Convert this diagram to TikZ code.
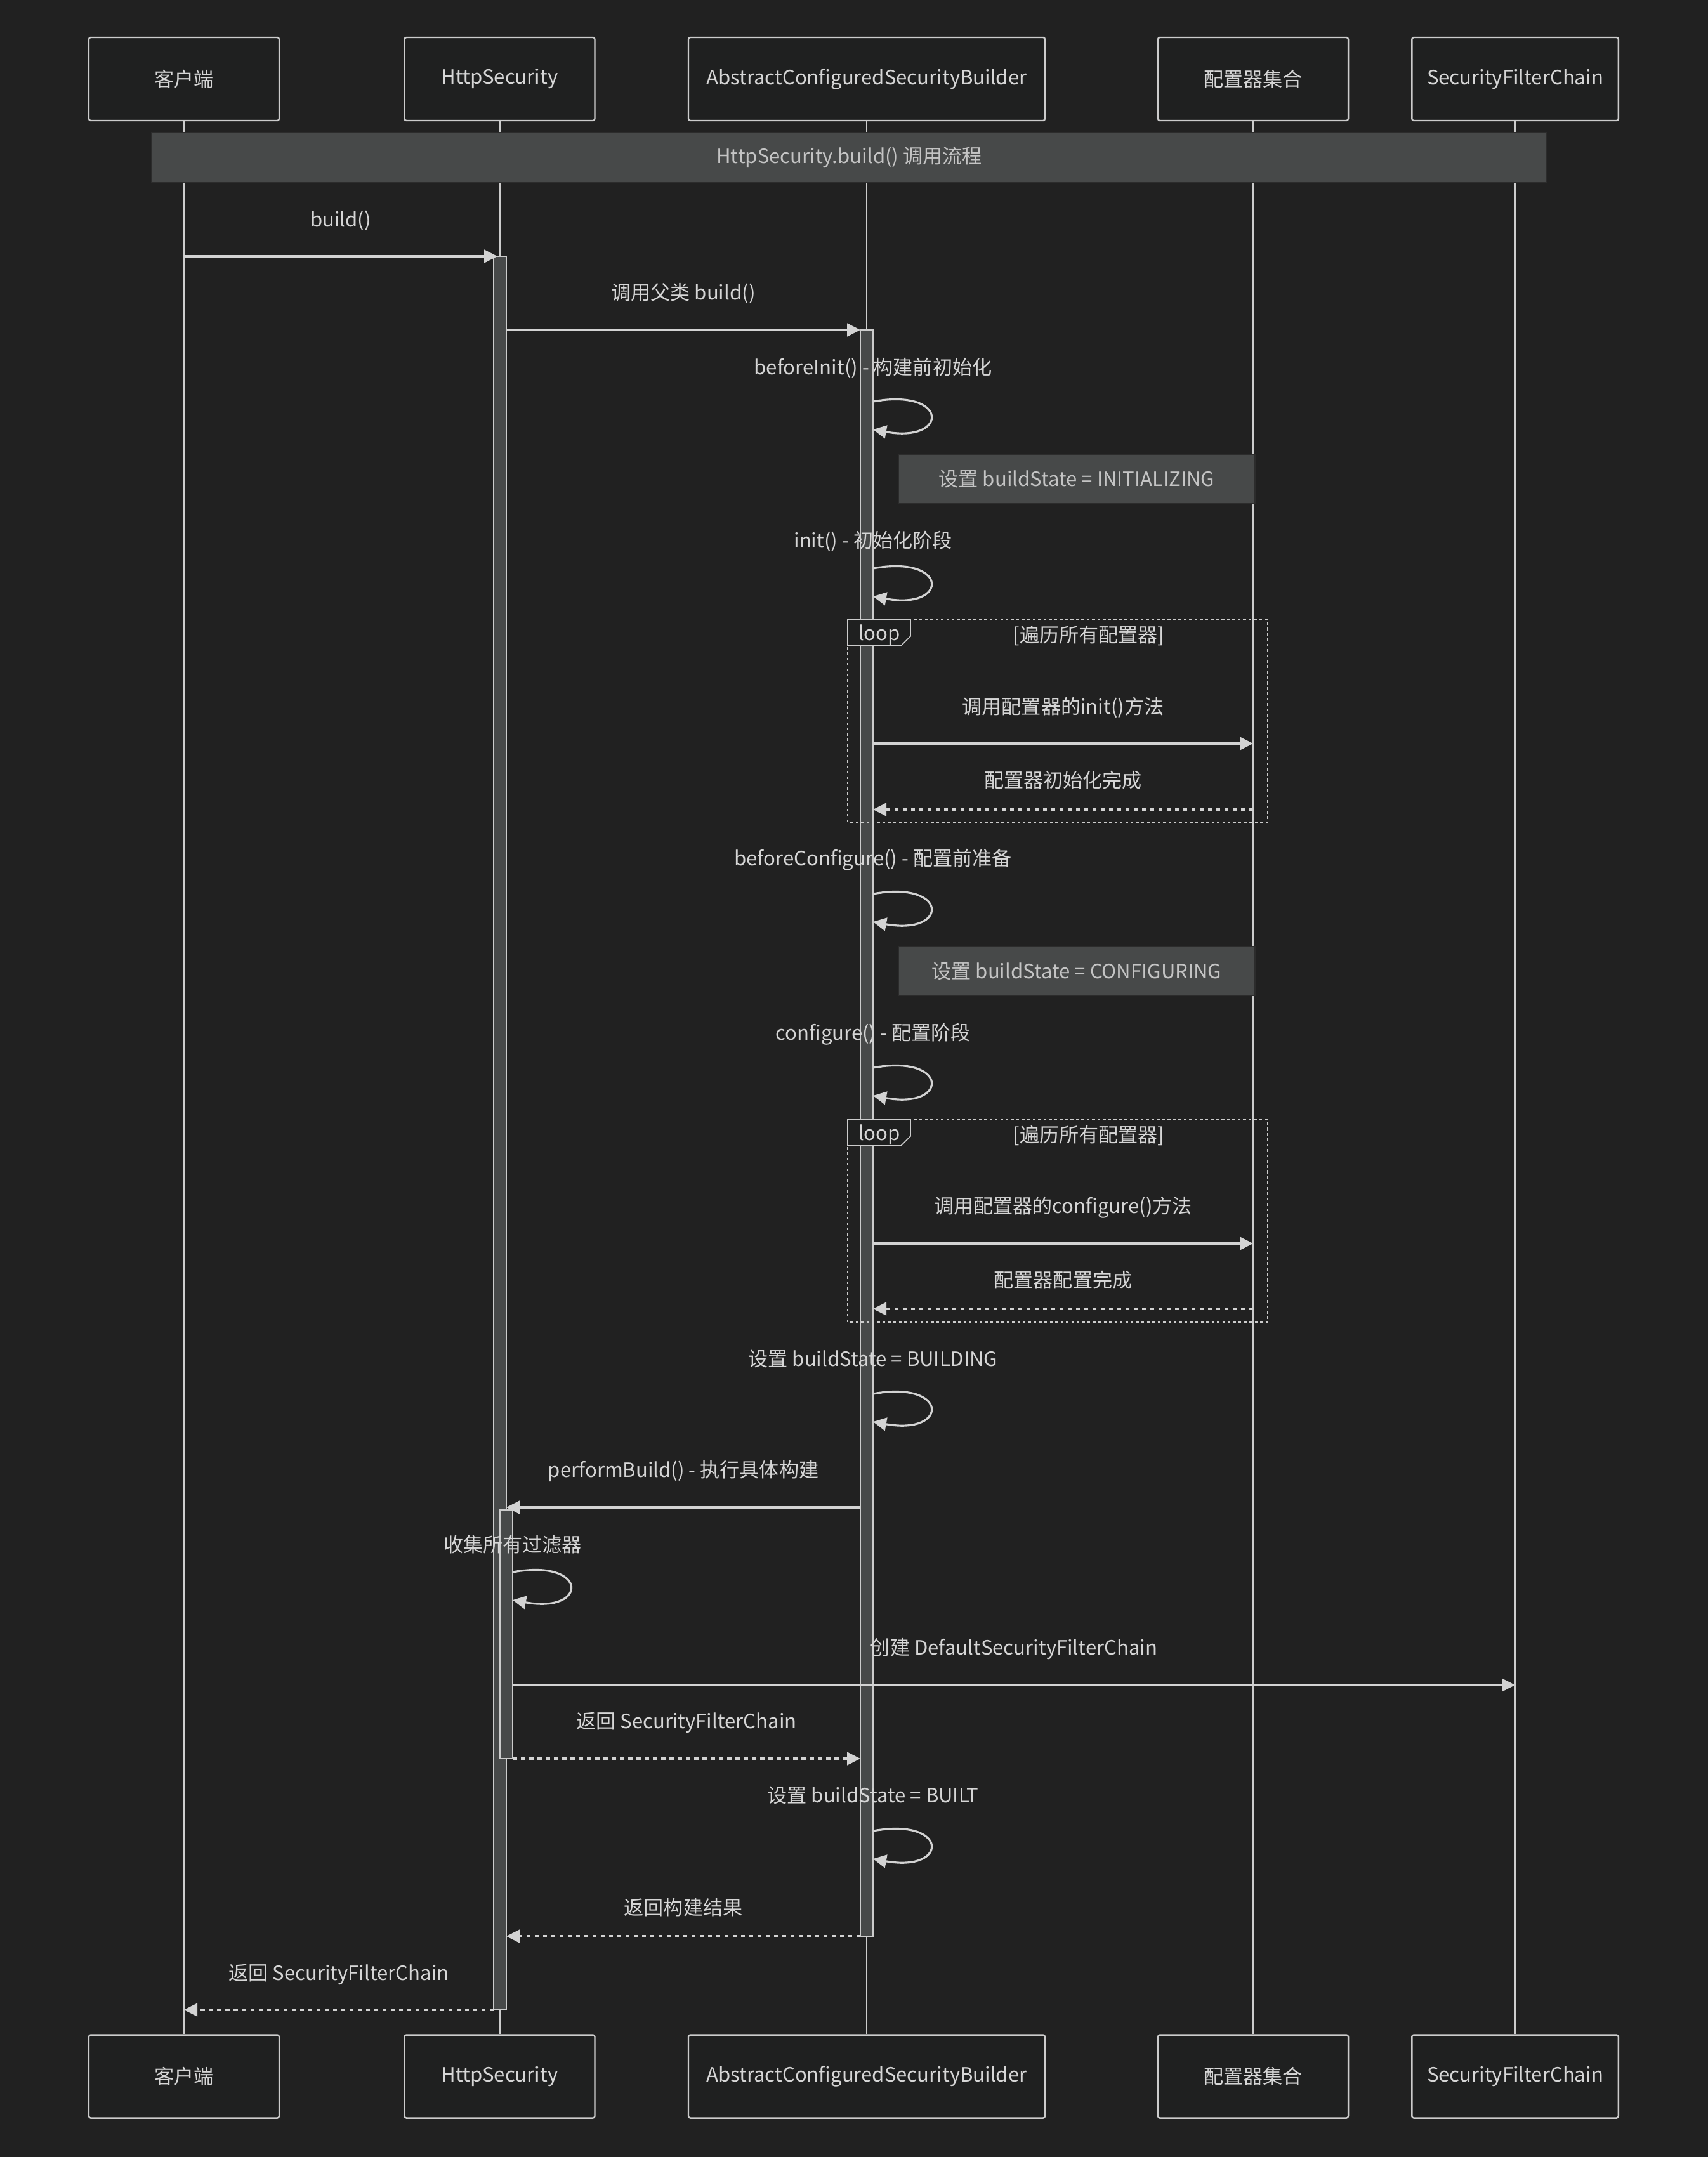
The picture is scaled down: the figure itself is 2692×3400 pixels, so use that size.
\documentclass[tikz,border=0pt]{standalone}
\usepackage{fontspec}
\setmainfont{Noto Sans CJK SC}
\usetikzlibrary{arrows.meta}
\definecolor{bgc}{RGB}{33,33,33}
\definecolor{actorc}{RGB}{31,32,32}
\definecolor{linec}{RGB}{204,204,204}
\definecolor{arrc}{RGB}{211,211,211}
\definecolor{txtc}{RGB}{214,214,214}
\definecolor{grayc}{RGB}{71,73,73}
\definecolor{noteline}{RGB}{44,44,44}
\definecolor{notetxt}{RGB}{196,196,196}
\tikzset{>={Triangle[length=4.2mm,width=4.1mm]},every node/.style={font=\fontsize{17.7}{21}\selectfont,text=txtc},
actor/.style={draw=linec,fill=actorc,line width=1.4pt,rounded corners=.6mm,minimum height=26.2mm,inner sep=0pt},
life/.style={draw=linec,line width=1.6pt},call/.style={draw=arrc,line width=1.8pt,->},
ret/.style={call,dash pattern=on 1.3mm off 1.3mm},actbar/.style={fill=grayc,draw=linec,line width=.7pt},
notebox/.style={fill=grayc,draw=noteline,line width=.8pt,text=notetxt,inner sep=0pt},
loopbox/.style={draw=linec,line width=1.4pt,dash pattern=on .85mm off .85mm},
looptab/.style={fill=actorc,draw=linec,line width=.9pt},lbl/.style={inner sep=0pt}}
\newcommand{\msg}[7]{\coordinate (#1s) at (#2,#4);\coordinate (#1e) at (#3,#4);
\draw[#5] (#1s) -- (#1e);\node[lbl] (#1l) at ({(#2+#3)/2},#7) {#6};}
\newcommand{\selfmsg}[5]{\coordinate (#1s) at (#2,#3);\coordinate (#1e) at (#2,#3+44);
\draw[call] (#1s) .. controls +(120,-22) and +(120,22) .. (#1e);\node[lbl] (#1l) at (#2,#5) {#4};}

\begin{document}
\begin{tikzpicture}[x=.2mm,y=-.2mm]
\fill[bgc] (0,0) rectangle (2692,3400);
% participants and lifelines
\foreach \n/\x/\w/\t in {cl/290/60/客户端,hs/787.5/60/HttpSecurity,ab/1366/112.4/AbstractConfiguredSecurityBuilder,cf/1975/60/配置器集合,fc/2388/65.1/SecurityFilterChain}{
\node[actor,minimum width=\w mm] (\n) at (\x,124.5) {\t};
\node[actor,minimum width=\w mm] (\n2) at (\x,3273) {\t};
\draw[life] (\n) -- (\n2);}
% notes
\node[notebox,minimum width=439.8mm,minimum height=15.8mm] (title) at (1338.5,248.5) {HttpSecurity.build() 调用流程};
\node[notebox,minimum width=112.4mm,minimum height=15.6mm] (ninit) at (1697,755) {设置 buildState = INITIALIZING};
\node[notebox,minimum width=112.4mm,minimum height=15.6mm] (nconf) at (1697,1530.5) {设置 buildState = CONFIGURING};
% activations
\draw[actbar] (778,404) rectangle (798,3168);
\draw[actbar] (1356,520) rectangle (1376,3052);
\draw[actbar] (788,2380) rectangle (808,2772);
% messages
\msg{m1}{290}{784}{404}{call}{build()}{348}
\msg{m2}{798}{1356}{520}{call}{调用父类 build()}{462}
\selfmsg{s1}{1376}{633}{beforeInit() - 构建前初始化}{580}
\selfmsg{s2}{1376}{896}{init() - 初始化阶段}{853}
\msg{m3}{1376}{1975}{1172}{call}{调用配置器的init()方法}{1115}
\msg{r1}{1975}{1376}{1276}{ret}{配置器初始化完成}{1230}
\selfmsg{s3}{1376}{1409}{beforeConfigure() - 配置前准备}{1355}
\selfmsg{s4}{1376}{1683}{configure() - 配置阶段}{1630}
\msg{m4}{1376}{1975}{1960}{call}{调用配置器的configure()方法}{1903}
\msg{r2}{1975}{1376}{2063}{ret}{配置器配置完成}{2018}
\selfmsg{s5}{1376}{2197}{设置 buildState = BUILDING}{2142}
\msg{m5}{1356}{798}{2376}{call}{performBuild() - 执行具体构建}{2319}
\selfmsg{s6}{808}{2478}{收集所有过滤器}{2435}
\msg{m6}{808}{2388}{2656}{call}{创建 DefaultSecurityFilterChain}{2599}
\msg{r3}{808}{1356}{2772}{ret}{返回 SecurityFilterChain}{2715}
\selfmsg{s7}{1376}{2886}{设置 buildState = BUILT}{2830}
\msg{r4}{1356}{798}{3052}{ret}{返回构建结果}{3007}
\msg{r5}{778}{290}{3168}{ret}{返回 SecurityFilterChain}{3112}
% loops
\foreach \y/\k in {977/a,1765/b}{
\draw[loopbox] (1336,\y) rectangle (1998,\y+319);
\draw[looptab] (1336,\y) -- (1435,\y) -- (1435,\y+26) -- (1420,\y+41) -- (1336,\y+41) -- cycle;
\node[lbl] (loop\k) at (1386,\y+24) {loop};
\node[lbl] (cond\k) at (1716,\y+25) {[遍历所有配置器]};}
\end{tikzpicture}
\end{document}
